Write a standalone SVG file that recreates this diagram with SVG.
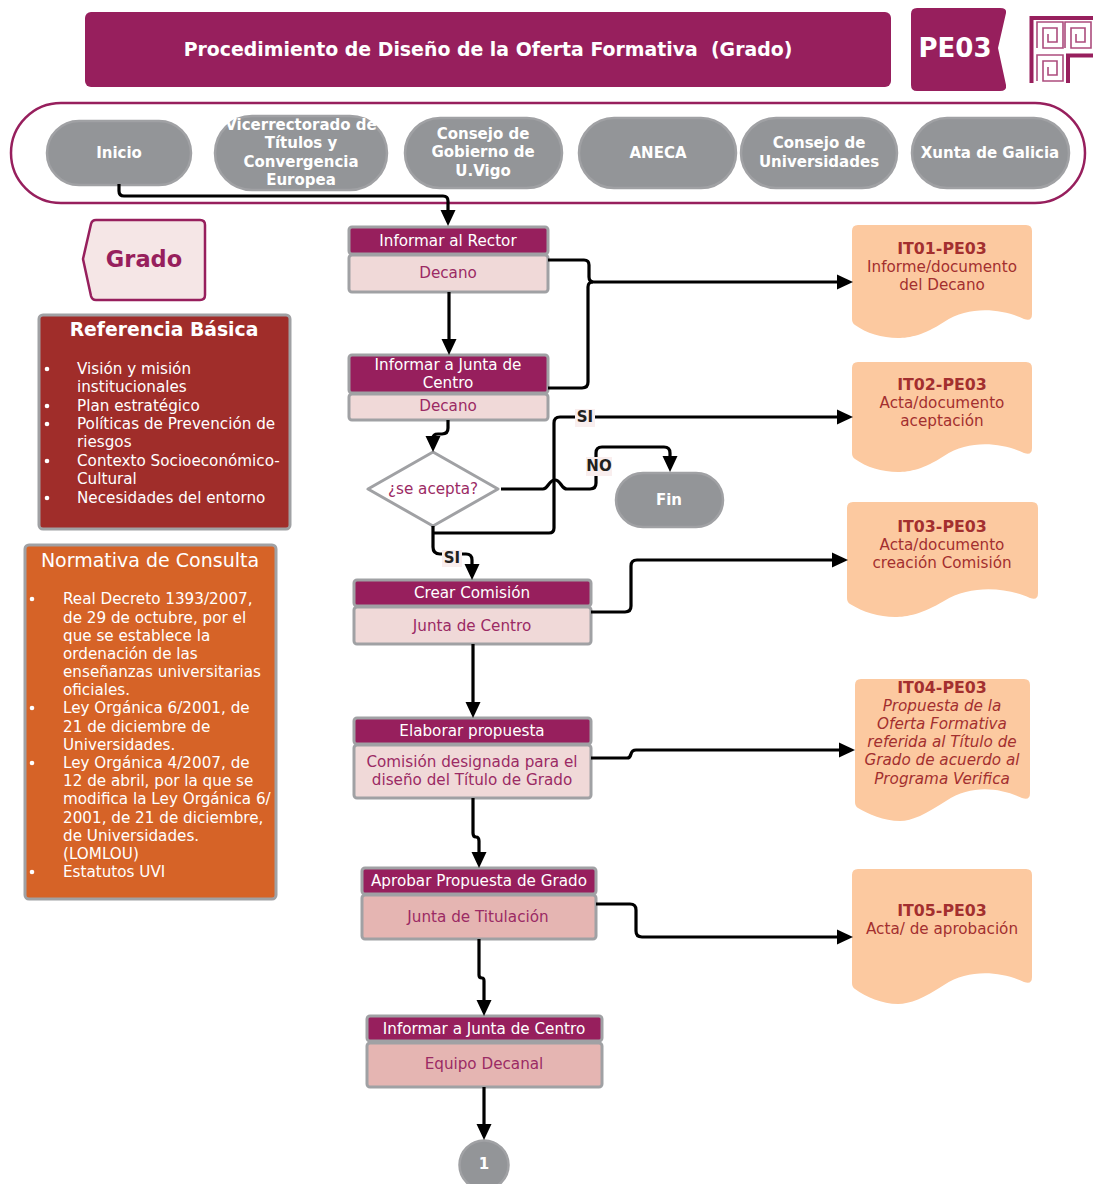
<svg xmlns="http://www.w3.org/2000/svg" xmlns:xlink="http://www.w3.org/1999/xlink" width="1093" height="1184" viewBox="0 0 1093 1184">
<style>
text{font-family:"DejaVu Sans",Verdana,sans-serif;font-size:15.2px;text-anchor:middle;dominant-baseline:central;white-space:pre}
.w{fill:#fff}
.b{font-weight:bold;font-size:15px}
.it{font-size:15.8px}
.m{fill:#9b2a64}
.d{fill:#a32f2f}
.l{text-anchor:start;fill:#fff}
.dot{fill:#fff}
.pill{fill:#939598;stroke:#a0a1a4;stroke-width:2.5}
.hd{fill:#971f5d;stroke:#a0a1a4;stroke-width:3}
.ft{fill:#f0d9d8;stroke:#a0a1a4;stroke-width:3}
.ft2{fill:#e5b5b2;stroke:#a0a1a4;stroke-width:3}
.doc{fill:#fcc9a0}
.c{fill:none;stroke:#000;stroke-width:3.2}
.a{marker-end:url(#arrow)}
.lb{fill:#f9eeee}
.lt{font-weight:bold;fill:#231f20;font-size:15px}
.sp{fill:none;stroke:#971f5d;stroke-width:1.6;stroke-opacity:.8}
</style>
<defs>
<marker id="arrow" markerUnits="userSpaceOnUse" markerWidth="16" markerHeight="16" viewBox="0 0 16 16" refX="12" refY="8" orient="auto"><path d="M0,0.5 L16,8 L0,15.5z" fill="#000"/></marker>
<path id="spiral" class="sp" d="M0,26 V0 H26 V26 H6 V6 H20 V20 H11 V12"/>
</defs>
<g id="title"><rect x="85" y="12" width="806" height="75" rx="6" fill="#971f5d"/><text class="w b" x="488" y="49" style="font-size:18.9px">Procedimiento de Diseño de la Oferta Formativa  (Grado)</text></g>
<g id="code"><path d="M917,8 H1000 Q1007,8 1006,13 L998,48 L1006,85 Q1007,91 1000,91 H917 Q911,91 911,85 V14 Q911,8 917,8z" fill="#971f5d"/><text class="w b" x="955" y="48" style="font-size:26px">PE03</text></g>
<g id="logo">
<path d="M1031.500,83 V18 H1093 M1068,83 V55.500 H1093" fill="none" stroke="#971f5d" stroke-width="4"/>
<use xlink:href="#spiral" href="#spiral" x="1037" y="22"/><use xlink:href="#spiral" href="#spiral" x="1065" y="22"/><use xlink:href="#spiral" href="#spiral" x="1037" y="55"/>
</g>
<g id="pool"><rect x="11" y="103" width="1074" height="100" rx="50" fill="#fff" stroke="#971f5d" stroke-width="2.5"/></g>
<g id="inicio"><rect class="pill" x="47" y="121" width="144" height="64" rx="32"/><text class="w b" x="119" y="153">Inicio</text></g>
<g id="vicerrectorado"><rect class="pill" x="215" y="116" width="172" height="74" rx="37"/><text class="w b" x="301" y="125">Vicerrectorado de</text><text class="w b" x="301" y="143">Títulos y</text><text class="w b" x="301" y="162">Convergencia</text><text class="w b" x="301" y="180">Europea</text></g>
<g id="consejo-gobierno"><rect class="pill" x="405" y="118" width="157" height="70" rx="35"/><text class="w b" x="483" y="134">Consejo de</text><text class="w b" x="483" y="152">Gobierno de</text><text class="w b" x="483" y="171">U.Vigo</text></g>
<g id="aneca"><rect class="pill" x="579" y="118" width="157" height="70" rx="35"/><text class="w b" x="658" y="153">ANECA</text></g>
<g id="consejo-univ"><rect class="pill" x="741" y="118" width="156" height="70" rx="35"/><text class="w b" x="819" y="143">Consejo de</text><text class="w b" x="819" y="162">Universidades</text></g>
<g id="xunta"><rect class="pill" x="912" y="118" width="157" height="70" rx="35"/><text class="w b" x="990" y="153">Xunta de Galicia</text></g>
<g id="grado"><path d="M96,220 H200 Q205,220 205,225 V295 Q205,300 200,300 H96 Q92,300 91,296 L83,259 L91,224 Q92,220 96,220z" fill="#f5e6e6" stroke="#971f5d" stroke-width="2.5"/><text class="b" x="144" y="259" style="font-size:22.5px;fill:#971f5d">Grado</text></g>
<g id="referencia"><rect x="39" y="315" width="251" height="214" rx="4" fill="#a02d2a" stroke="#a0a1a4" stroke-width="3"/>
<text class="w b" x="164" y="329" style="font-size:18.800px">Referencia Básica</text>
<circle class="dot" cx="47" cy="369" r="2.300"/><text class="l" x="77" y="369">Visión y misión</text><text class="l" x="77" y="387">institucionales</text>
<circle class="dot" cx="47" cy="406" r="2.300"/><text class="l" x="77" y="406">Plan estratégico</text>
<circle class="dot" cx="47" cy="424" r="2.300"/><text class="l" x="77" y="424">Políticas de Prevención de</text><text class="l" x="77" y="442">riesgos</text>
<circle class="dot" cx="47" cy="461" r="2.300"/><text class="l" x="77" y="461">Contexto Socioeconómico-</text><text class="l" x="77" y="479">Cultural</text>
<circle class="dot" cx="47" cy="498" r="2.300"/><text class="l" x="77" y="498">Necesidades del entorno</text></g>
<g id="normativa"><rect x="25" y="545" width="251" height="354" rx="4" fill="#d66327" stroke="#a0a1a4" stroke-width="3"/>
<text class="w" x="150" y="560" style="font-size:19px">Normativa de Consulta</text>
<circle class="dot" cx="32" cy="599" r="2.300"/><text class="l" x="63" y="599">Real Decreto 1393/2007,</text><text class="l" x="63" y="618">de 29 de octubre, por el</text><text class="l" x="63" y="636">que se establece la</text><text class="l" x="63" y="654">ordenación de las</text><text class="l" x="63" y="672">enseñanzas universitarias</text><text class="l" x="63" y="690">oficiales.</text>
<circle class="dot" cx="32" cy="708" r="2.300"/><text class="l" x="63" y="708">Ley Orgánica 6/2001, de</text><text class="l" x="63" y="727">21 de diciembre de</text><text class="l" x="63" y="745">Universidades.</text>
<circle class="dot" cx="32" cy="763" r="2.300"/><text class="l" x="63" y="763">Ley Orgánica 4/2007, de</text><text class="l" x="63" y="781">12 de abril, por la que se</text><text class="l" x="63" y="799">modifica la Ley Orgánica 6/</text><text class="l" x="63" y="818">2001, de 21 de diciembre,</text><text class="l" x="63" y="836">de Universidades.</text><text class="l" x="63" y="854">(LOMLOU)</text>
<circle class="dot" cx="32" cy="872" r="2.300"/><text class="l" x="63" y="872">Estatutos UVI</text></g>
<g id="n1"><rect class="hd" x="349" y="227" width="199" height="27" rx="3"/><rect class="ft" x="349" y="255" width="199" height="37" rx="3"/><text class="w" x="448" y="241">Informar al Rector</text><text class="m" x="448" y="273">Decano</text></g>
<g id="n2"><rect class="hd" x="349" y="355" width="199" height="38" rx="3"/><rect class="ft" x="349" y="394" width="199" height="26" rx="3"/><text class="w" x="448" y="365">Informar a Junta de</text><text class="w" x="448" y="383">Centro</text><text class="m" x="448" y="406">Decano</text></g>
<g id="decision"><path d="M433,452 L498,489 L433,526 L368,489z" fill="#fff" stroke="#a0a1a4" stroke-width="3" stroke-linejoin="round"/><text class="m" x="433" y="489">¿se acepta?</text></g>
<g id="fin"><rect class="pill" x="616" y="473" width="107" height="54" rx="27"/><text class="w b" x="669" y="500">Fin</text></g>
<g id="n3"><rect class="hd" x="354" y="580" width="237" height="26" rx="3"/><rect class="ft" x="354" y="607" width="237" height="37" rx="3"/><text class="w" x="472" y="593">Crear Comisión</text><text class="m" x="472" y="626">Junta de Centro</text></g>
<g id="n4"><rect class="hd" x="354" y="718" width="237" height="26" rx="3"/><rect class="ft" x="354" y="745" width="237" height="53" rx="3"/><text class="w" x="472" y="731">Elaborar propuesta</text><text class="m" x="472" y="762">Comisión designada para el</text><text class="m" x="472" y="780">diseño del Título de Grado</text></g>
<g id="n5"><rect class="hd" x="362" y="868" width="234" height="26" rx="3"/><rect class="ft2" x="362" y="895" width="234" height="44" rx="3"/><text class="w" x="479" y="881">Aprobar Propuesta de Grado</text><text class="m" x="478" y="917">Junta de Titulación</text></g>
<g id="n6"><rect class="hd" x="367" y="1016" width="235" height="25" rx="3"/><rect class="ft2" x="367" y="1043" width="235" height="44" rx="3"/><text class="w" x="484" y="1029">Informar a Junta de Centro</text><text class="m" x="484" y="1064">Equipo Decanal</text></g>
<g id="n7"><circle class="pill" cx="484" cy="1165" r="24.500"/><text class="w b" x="484" y="1164">1</text></g>
<g id="it01"><path class="doc" d="M858,225 H1026 q6,0 6,6 V314 q0,8 -8,5 c-22,-10 -54,-14 -80,3 c-20,13 -34,16 -46,16 c-16,0 -32,-5 -43,-13 q-3,-2 -3,-6 V231 q0,-6 6,-6z"/><text class="d b it" x="942" y="248">IT01-PE03</text><text class="d" x="942" y="267">Informe/documento</text><text class="d" x="942" y="285">del Decano</text></g>
<g id="it02"><path class="doc" d="M858,362 H1026 q6,0 6,6 V448 q0,8 -8,5 c-22,-10 -54,-14 -80,3 c-20,13 -34,16 -46,16 c-16,0 -32,-5 -43,-13 q-3,-2 -3,-6 V368 q0,-6 6,-6z"/><text class="d b it" x="942" y="384">IT02-PE03</text><text class="d" x="942" y="403">Acta/documento</text><text class="d" x="942" y="421">aceptación</text></g>
<g id="it03"><path class="doc" d="M853,502 H1032 q6,0 6,6 V593 q0,8 -8,5 c-22,-10 -58,-14 -86,3 c-22,13 -37,16 -49,16 c-16,0 -32,-5 -45,-13 q-3,-2 -3,-6 V508 q0,-6 6,-6z"/><text class="d b it" x="942" y="526">IT03-PE03</text><text class="d" x="942" y="545">Acta/documento</text><text class="d" x="942" y="563">creación Comisión</text></g>
<g id="it04"><path class="doc" d="M861,679 H1024 q6,0 6,6 V793 q0,8 -8,5 c-22,-10 -50,-14 -76,3 c-20,13 -34,20 -46,20 c-16,0 -32,-7 -42,-13 q-3,-2 -3,-6 V685 q0,-6 6,-6z"/><text class="d b it" x="942" y="687">IT04-PE03</text><g font-style="italic"><text class="d" x="942" y="706">Propuesta de la</text><text class="d" x="942" y="724">Oferta Formativa</text><text class="d" x="942" y="742">referida al Título de</text><text class="d" x="942" y="760">Grado de acuerdo al</text><text class="d" x="942" y="779">Programa Verifica</text></g></g>
<g id="it05"><path class="doc" d="M858,869 H1026 q6,0 6,6 V977 q0,8 -8,5 c-22,-10 -54,-14 -80,3 c-20,13 -34,19 -46,19 c-16,0 -32,-7 -43,-15 q-3,-2 -3,-6 V875 q0,-6 6,-6z"/><text class="d b it" x="942" y="910">IT05-PE03</text><text class="d" x="942" y="929">Acta/ de aprobación</text></g>
<g id="connectors">
<path class="c a" d="M119,184 V191 q0,5 5,5 H443 q5,0 5,5 V222"/>
<path class="c a" d="M548,260 H584 q5,0 5,5 V277 q0,5 5,5 H849"/>
<path class="c" d="M548,388 H582 q6,0 6,-6 V287 q0,-5 5,-5"/>
<path class="c a" d="M449,292 V351"/>
<path class="c a" d="M448,420 V428 q0,6 -6,6 H438 q-5,0 -5,4 V448"/>
<path class="c a" d="M501,489 H543 c5,0 6,-9 12,-9 c6,0 6,9 12,9 H590 q6,0 6,-6 V453 q0,-6 6,-6 H664 q6,0 6,6 V468"/>
<path class="c a" d="M433,533 H549 q5,0 5,-5 V423 q0,-6 6,-6 H849"/>
<path class="c a" d="M433,526 V547 q0,7 7,7 H466 q6,0 6,6 V576"/>
<path class="c a" d="M591,612 H625 q6,0 6,-6 V566 q0,-6 6,-6 H844"/>
<path class="c a" d="M473,644 V714"/>
<path class="c a" d="M591,758 H627 q3,0 4,-4 q1,-4 5,-4 H851"/>
<path class="c a" d="M473,798 V833 q0,4 3,4 q3,0 3,4 V864"/>
<path class="c a" d="M596,904 H630 q6,0 6,6 V931 q0,6 6,6 H849"/>
<path class="c a" d="M479,939 V975 q0,3 3,3 q2,0 2,3 V1012"/>
<path class="c a" d="M484,1087 V1136"/>
</g>
<g id="labels">
<rect class="lb" x="575" y="409" width="20" height="18"/><text class="lt" x="585" y="417">SI</text>
<rect class="lb" x="586" y="457" width="26" height="19"/><text class="lt" x="599" y="466">NO</text>
<rect class="lb" x="442" y="550" width="20" height="17"/><text class="lt" x="452" y="558">SI</text>
</g>
</svg>
